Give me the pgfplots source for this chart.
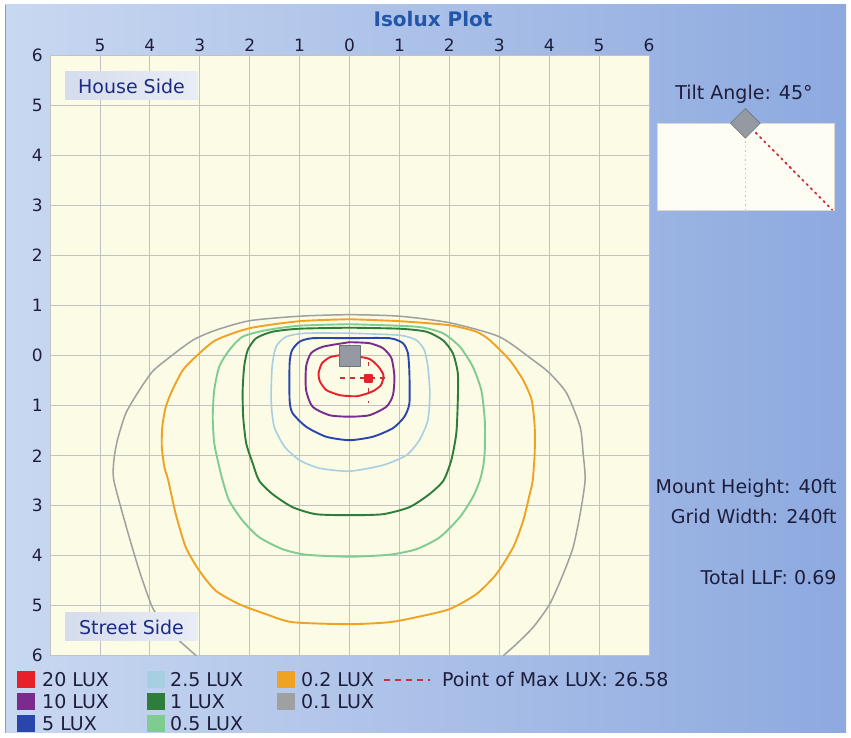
\documentclass[border=0pt]{standalone}
\usepackage{pgfplots}
\pgfplotsset{compat=1.18}
\usepackage{fontspec}
\setmainfont{DejaVu Sans}

\definecolor{bgL}{HTML}{C9D8F1}
\definecolor{bgR}{HTML}{8DA9DF}
\definecolor{bdr}{HTML}{7F9DC8}
\definecolor{plotbg}{HTML}{FBFBE6}
\definecolor{gridc}{HTML}{C2C2C2}
\definecolor{txt}{HTML}{1E1E3C}
\definecolor{ttl}{HTML}{2456A8}
\definecolor{side}{HTML}{1C2C84}
\definecolor{sideL}{HTML}{D5DCEC}
\definecolor{sideR}{HTML}{E9EDF5}
\definecolor{lum}{HTML}{9499A2}
\definecolor{lumd}{HTML}{6E747E}
\definecolor{tiltbg}{HTML}{FDFDF3}
\definecolor{tiltbd}{HTML}{D8D8D0}
\definecolor{vdot}{HTML}{C4C4C4}
\definecolor{c20}{HTML}{E8202A}
\definecolor{c10}{HTML}{7A2C8E}
\definecolor{c5}{HTML}{2A46AC}
\definecolor{c25}{HTML}{A6D0E2}
\definecolor{c1}{HTML}{2E7D3A}
\definecolor{c05}{HTML}{7FCC90}
\definecolor{c02}{HTML}{F0A224}
\definecolor{c01}{HTML}{A0A0A0}
\definecolor{maxc}{HTML}{C8303C}

\newcommand{\fs}[1]{\fontsize{#1}{#1}\selectfont}

\begin{document}
\begin{tikzpicture}[x=1pt,y=1pt]
% panel
\fill[white] (0,0) rectangle (851,738);
\shade[left color=bgL, right color=bgR] (5,5) rectangle (846,733);
\draw[bdr, line width=0.8pt] (5.4,5) -- (5.4,733);

\node[anchor=base, font=\bfseries\fs{20}, text=ttl] at (433,711) {Isolux Plot};

% main isolux plot
\begin{axis}[
    at={(50pt,82.3pt)}, anchor=south west,
    scale only axis, width=599pt, height=600pt,
    xmin=-6, xmax=6, ymin=-6, ymax=6,
    xtick={-6,...,6}, ytick={-6,...,6},
    xticklabels={,5,4,3,2,1,0,1,2,3,4,5,6},
    yticklabels={6,5,4,3,2,1,0,1,2,3,4,5,6},
    xticklabel pos=upper,
    major tick length=0pt,
    grid=major,
    grid style={gridc, line width=0.8pt},
    axis line style={draw=gridc},
    axis background/.style={fill=plotbg},
    tick label style={font=\fs{17}, text=txt},
    xticklabel style={anchor=south, inner sep=0pt, yshift=4pt},
    yticklabel style={anchor=east, inner sep=0pt, xshift=-7pt},
    every axis plot/.append style={line width=1.9pt, line join=round},
]
% 0.1 LUX
\addplot[c01, line width=1.5pt, smooth, tension=0.4] coordinates {
(-3.07,-6.0) (-3.41,-5.7) (-3.68,-5.43) (-3.95,-5.03) (-4.21,-4.3) (-4.45,-3.5)
(-4.72,-2.5) (-4.72,-2.09) (-4.65,-1.69) (-4.48,-1.15) (-4.21,-0.69) (-3.95,-0.32)
(-3.68,-0.09) (-3.14,0.31) (-2.68,0.51) (-2,0.70) (-1,0.79) (0,0.82) (1,0.79)
(2,0.66) (3,0.38) (3.68,-0.09) (4.01,-0.35) (4.35,-0.75) (4.62,-1.42) (4.68,-1.95)
(4.72,-2.49) (4.62,-3.17) (4.48,-3.83) (4.28,-4.37) (4.01,-4.97) (3.68,-5.43)
(3.34,-5.77) (3.08,-6.0)};
% 0.2 LUX
\addplot[c02, smooth, tension=0.4] coordinates {
(0,0.73) (-1,0.69) (-2,0.55) (-2.68,0.31) (-3.08,-0.02) (-3.34,-0.29) (-3.55,-0.69)
(-3.68,-1.02) (-3.75,-1.42) (-3.76,-1.82) (-3.71,-2.22) (-3.63,-2.5) (-3.48,-3.17)
(-3.28,-3.83) (-3.01,-4.3) (-2.68,-4.7) (-2.21,-4.97) (-1.67,-5.17) (-1.14,-5.33)
(0,-5.37) (0.8,-5.33) (1.34,-5.23) (2.0,-5.07) (2.54,-4.77) (2.94,-4.37) (3.28,-3.83)
(3.48,-3.3) (3.61,-2.77) (3.67,-2.5) (3.71,-1.95) (3.71,-1.42) (3.65,-0.89)
(3.48,-0.49) (3.21,-0.09) (2.81,0.31) (2.54,0.48) (2.0,0.61) (1,0.69) (0,0.73)};
% 0.5 LUX
\addplot[c05, smooth, tension=0.4] coordinates {
(0,0.63) (-1,0.60) (-1.67,0.51) (-2.14,0.38) (-2.41,0.11) (-2.61,-0.22) (-2.71,-0.69)
(-2.74,-1.22) (-2.71,-1.75) (-2.61,-2.22) (-2.54,-2.5) (-2.41,-2.9) (-2.14,-3.3)
(-1.81,-3.63) (-1.34,-3.87) (-0.87,-3.98) (0,-4.02) (0.8,-3.98) (1.34,-3.87)
(1.81,-3.63) (2.21,-3.23) (2.47,-2.83) (2.61,-2.5) (2.68,-2.2) (2.71,-1.89)
(2.71,-1.29) (2.64,-0.69) (2.47,-0.22) (2.21,0.18) (1.87,0.45) (1.34,0.58) (0,0.63)};
% 1 LUX
\addplot[c1, smooth, tension=0.4] coordinates {
(0,0.56) (-1,0.54) (-1.54,0.48) (-1.87,0.35) (-2.04,0.11) (-2.11,-0.22) (-2.14,-0.69)
(-2.13,-1.22) (-2.07,-1.75) (-1.94,-2.15) (-1.81,-2.5) (-1.54,-2.77) (-1.14,-3.03)
(-0.67,-3.17) (0,-3.19) (0.67,-3.17) (1.2,-3.03) (1.6,-2.77) (1.88,-2.5) (2.04,-2.09)
(2.14,-1.55) (2.17,-0.89) (2.17,-0.35) (2.07,0.05) (1.87,0.31) (1.54,0.48) (1,0.54) (0,0.56)};
% 2.5 LUX
\addplot[c25, line width=1.6pt, smooth, tension=0.4] coordinates {
(0,0.45) (-0.87,0.45) (-1.27,0.38) (-1.47,0.18) (-1.55,-0.22) (-1.57,-0.89)
(-1.51,-1.42) (-1.30,-1.82) (-1.0,-2.09) (-0.6,-2.25) (0,-2.31) (0.67,-2.19)
(1.14,-1.99) (1.40,-1.69) (1.57,-1.29) (1.61,-0.75) (1.57,-0.22) (1.5,0.11)
(1.34,0.31) (1.0,0.41) (0,0.45)};
% 5 LUX
\addplot[c5, smooth, tension=0.4] coordinates {
(0,0.35) (-0.74,0.35) (-1.0,0.28) (-1.15,0.11) (-1.2,-0.15) (-1.2,-0.89) (-1.14,-1.15)
(-0.87,-1.42) (-0.47,-1.62) (0,-1.69) (0.47,-1.62) (0.87,-1.45) (1.1,-1.22)
(1.2,-0.95) (1.2,-0.35) (1.17,0.05) (1.07,0.25) (0.8,0.35) (0,0.35)};
% 10 LUX
\addplot[c10, smooth, tension=0.4] coordinates {
(0,0.27) (-0.53,0.18) (-0.77,0.05) (-0.87,-0.22) (-0.87,-0.69) (-0.74,-1.02)
(-0.4,-1.19) (0,-1.22) (0.4,-1.19) (0.74,-1.02) (0.87,-0.79) (0.9,-0.42)
(0.84,-0.05) (0.67,0.15) (0.4,0.25) (0,0.27)};
% 20 LUX
\addplot[c20, smooth, tension=0.4] coordinates {
(-0.19,0.01) (-0.39,-0.03) (-0.55,-0.15) (-0.62,-0.35) (-0.59,-0.52) (-0.46,-0.69)
(-0.19,-0.79) (0.15,-0.81) (0.45,-0.72) (0.63,-0.59) (0.68,-0.39) (0.58,-0.22)
(0.41,-0.07) (0.18,-0.02) (-0.19,0.01)};
% point of max lux
\addplot[maxc, line width=1.5pt, dash pattern=on 5pt off 5pt] coordinates {(-0.2,-0.45) (0.75,-0.45)};
\addplot[maxc, line width=1.5pt, dash pattern=on 4pt off 9pt] coordinates {(0.38,-0.12) (0.38,-0.95)};
\addplot[only marks, mark=square*, mark size=3.5pt, mark options={fill=c20, draw=c20}] coordinates {(0.38,-0.45)};
% luminaire
\addplot[only marks, mark=square*, mark size=10.5pt, mark options={fill=lum, draw=lumd, line width=0.6pt}] coordinates {(0,0)};
\end{axis}

\node[left color=sideL, right color=sideR, minimum width=133pt, minimum height=28pt,
      inner sep=0pt, font=\fs{19}, text=side] at (131.5,652) {House Side};
\node[left color=sideL, right color=sideR, minimum width=133pt, minimum height=28pt,
      inner sep=0pt, font=\fs{19}, text=side] at (131.5,111) {Street Side};

% tilt panel
\node[anchor=base, font=\fs{19}, text=txt] at (744,638.7) {Tilt Angle: 45°};
\begin{axis}[
    at={(656.7pt,527.3pt)}, anchor=south west,
    scale only axis, width=177.3pt, height=87.4pt,
    xmin=-1, xmax=1, ymin=-1, ymax=0,
    ticks=none, clip=false,
    axis line style={draw=tiltbd},
    axis background/.style={fill=tiltbg},
]
\addplot[vdot, line width=1pt, dash pattern=on 1.5pt off 3pt] coordinates {(0,0) (0,-1)};
\addplot[maxc, line width=1.8pt, dash pattern=on 1.8pt off 4.2pt, line cap=round] coordinates {(0.07,-0.06) (0.98,-0.99)};
\addplot[only marks, mark=square*, mark size=10.5pt, mark options={rotate=45, fill=lum, draw=lumd, line width=0.6pt}] coordinates {(0,0)};
\end{axis}

\node[anchor=base east, font=\fs{19}, text=txt] at (840,244) {Mount Height: 40ft};
\node[anchor=base east, font=\fs{19}, text=txt] at (840,214.7) {Grid Width: 240ft};
\node[anchor=base east, font=\fs{19}, text=txt] at (840,153) {Total LLF: 0.69};

% legend
\begin{scope}[font=\fs{19}, text=txt]
\fill[c20] (17,49.5) rectangle (35,66.5);
\node[anchor=base west, inner sep=0pt] at (42,51.2) {20 LUX};
\fill[c10] (17,27.5) rectangle (35,44.5);
\node[anchor=base west, inner sep=0pt] at (42,29.2) {10 LUX};
\fill[c5] (17,5.5) rectangle (35,22.5);
\node[anchor=base west, inner sep=0pt] at (42,7.2) {5 LUX};
\fill[c25] (147,49.5) rectangle (165,66.5);
\node[anchor=base west, inner sep=0pt] at (170,51.2) {2.5 LUX};
\fill[c1] (147,27.5) rectangle (165,44.5);
\node[anchor=base west, inner sep=0pt] at (170,29.2) {1 LUX};
\fill[c05] (147,5.5) rectangle (165,22.5);
\node[anchor=base west, inner sep=0pt] at (170,7.2) {0.5 LUX};
\fill[c02] (277,49.5) rectangle (295,66.5);
\node[anchor=base west, inner sep=0pt] at (301,51.2) {0.2 LUX};
\fill[c01] (277,27.5) rectangle (295,44.5);
\node[anchor=base west, inner sep=0pt] at (301,29.2) {0.1 LUX};
\draw[maxc, line width=1.5pt, dash pattern=on 6pt off 5pt] (384,58) -- (430,58);
\node[anchor=base west, inner sep=0pt] at (442,51.2) {Point of Max LUX: 26.58};
\end{scope}
\end{tikzpicture}
\end{document}
